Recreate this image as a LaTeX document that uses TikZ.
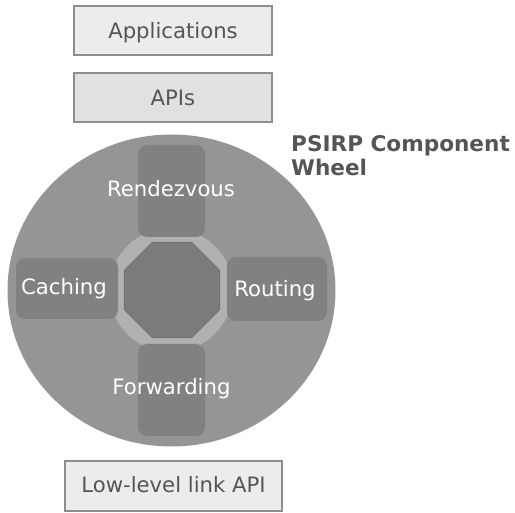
\documentclass[tikz,border=0pt]{standalone}
\usepackage{fontspec}
\setmainfont{DejaVu Sans}
\usetikzlibrary{shapes.geometric}
\definecolor{wheelgray}{HTML}{959595}
\definecolor{ringgray}{HTML}{B1B1B1}
\definecolor{coregray}{HTML}{7B7B7B}
\definecolor{coreedge}{HTML}{727272}
\definecolor{spokegray}{HTML}{818181}
\definecolor{boxedge}{HTML}{8E8E8E}
\definecolor{boxlight}{HTML}{ECECEC}
\definecolor{boxmid}{HTML}{E1E1E1}
\definecolor{inkgray}{HTML}{555555}
\begin{document}
\begin{tikzpicture}[x=1pt,y=-1pt,
  layerbox/.style={draw=boxedge,line width=2.4pt,inner sep=0pt,minimum height=49pt},
  layerlabel/.style={text=inkgray,inner sep=0pt,anchor=base,font=\fontsize{21.2}{24}\selectfont},
  spoke/.style={fill=spokegray,rounded corners=9pt,inner sep=0pt},
  spokelabel/.style={text=white,inner sep=0pt,anchor=base,font=\fontsize{21.2}{24}\selectfont},
  heading/.style={text=inkgray,inner sep=0pt,anchor=base west,
    font=\bfseries\fontsize{21.6}{23.5}\selectfont}]
\useasboundingbox (0,0) rectangle (515,513);

% protocol stack boxes
\node (apps) [layerbox,fill=boxlight,minimum width=198pt] at (173,30.5) {};
\node (apis) [layerbox,fill=boxmid,minimum width=198pt] at (173,97.5) {};
\node (link) [layerbox,fill=boxlight,minimum width=217pt,minimum height=50pt] at (173.5,486) {};
\node [layerlabel] at (173,39) {Applications};
\node [layerlabel] at (173,106) {APIs};
\node [layerlabel] at (173.5,492.7) {Low-level link API};

% the wheel
\node (wheel) [ellipse,fill=wheelgray,minimum width=328pt,minimum height=312pt,inner sep=0pt] at (171.5,290.5) {};
\node (ring) [circle,fill=ringgray,minimum size=124pt,inner sep=0pt] at (171,290) {};
\node (core) [regular polygon,regular polygon sides=8,fill=coregray,draw=coreedge,line width=1pt,
  minimum size=103pt,inner sep=0pt] at (172,290) {};

% component spokes
\node (rdv) [spoke,minimum width=67pt,minimum height=92pt] at (171.5,191) {};
\node (fwd) [spoke,minimum width=67pt,minimum height=92pt] at (171.5,390) {};
\node (cch) [spoke,minimum width=102pt,minimum height=61pt] at (67,288.5) {};
\node (rtg) [spoke,minimum width=100pt,minimum height=64pt] at (277,289) {};

\node [spokelabel] at (171,196.5) {Rendezvous};
\node [spokelabel] at (171.5,395) {Forwarding};
\node [spokelabel] at (64,295) {Caching};
\node [spokelabel] at (275,296.5) {Routing};

% title, two lines
\node (title) [heading] at (291,152) {PSIRP Component};
\node (title2) [heading] at (291,175.5) {Wheel};
\end{tikzpicture}
\end{document}
